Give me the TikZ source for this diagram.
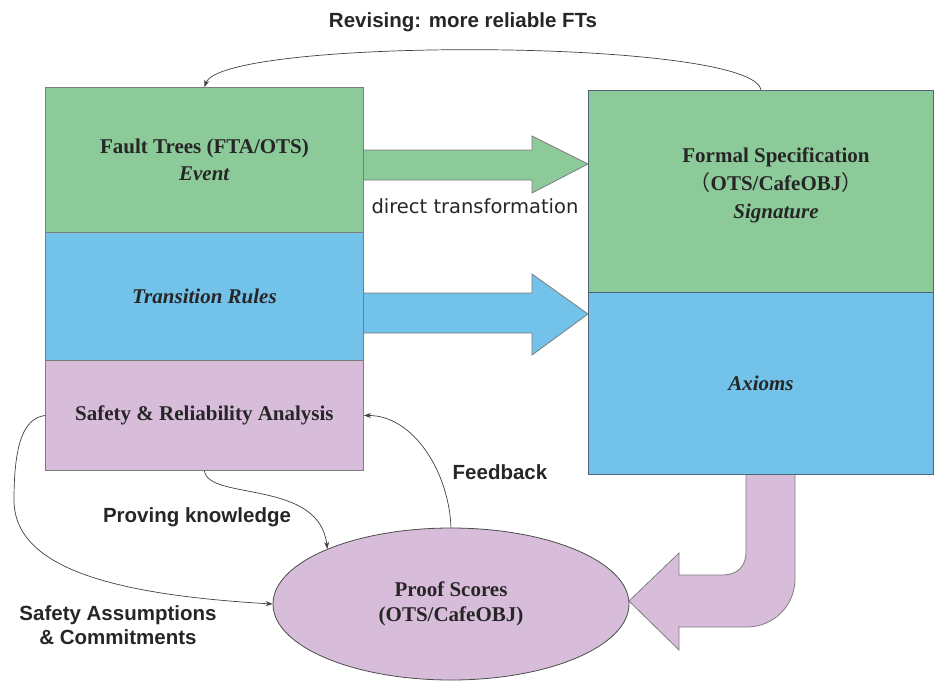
\documentclass[tikz,border=0pt]{standalone}
\usepackage{fontspec}
\setmainfont{Liberation Serif}
\newfontfamily\labfont{Liberation Sans}
\newfontfamily\handfont{DejaVu Sans}
\newfontfamily\cjk{Noto Sans CJK SC}
\usetikzlibrary{shapes.geometric,arrows.meta}
\definecolor{boxgreen}{RGB}{140,203,153}
\definecolor{boxblue}{RGB}{114,194,233}
\definecolor{boxpink}{RGB}{216,189,219}
\definecolor{edgegray}{RGB}{125,125,125}
\definecolor{edgeslate}{RGB}{80,100,120}
\definecolor{inkgray}{RGB}{38,38,38}
\begin{document}
\begin{tikzpicture}[x=1pt,y=-1pt,
  section/.style={draw=edgegray, line width=0.9pt, anchor=north west, inner sep=0pt,
    align=center, font=\fontsize{21}{27}\selectfont\bfseries, text=inkgray},
  lbl/.style={font=\labfont\bfseries\fontsize{20.5}{24}\selectfont, text=inkgray,
    align=center, inner sep=0pt},
  link/.style={draw=black!75, line width=0.7pt, -{Stealth[length=7pt,width=5pt]}},
  fat/.style={draw=edgegray, line width=0.8pt}]
\useasboundingbox (0,0) rectangle (941,681);

% block arrows between the two stacks and down to the proof scores
\draw[fat, fill=boxgreen] (363,150) -- (532,150) -- (532,136) -- (588,164)
  -- (532,193) -- (532,180) -- (363,180) -- cycle;
\draw[fat, fill=boxblue] (363,293) -- (532,293) -- (532,274) -- (588,314)
  -- (532,355) -- (532,333) -- (363,333) -- cycle;
\draw[fat, fill=boxpink] (746,474) -- (746,552) .. controls (746,566) and (738,575) .. (722,575)
  -- (679,575) -- (679,553) -- (629,601) -- (679,650) -- (679,627) -- (747,627)
  .. controls (773.5,627) and (795,605.5) .. (795,579) -- (795,474) -- cycle;

% left stack
\node[section, fill=boxgreen, minimum width=318pt, minimum height=145pt] (ftree) at (45,87)
  {Fault Trees (FTA/OTS)\\\textit{Event}};
\node[section, fill=boxblue, minimum width=318pt, minimum height=128pt] (trans) at (45,232)
  {\textit{Transition Rules}};
\node[section, fill=boxpink, minimum width=318pt, minimum height=110pt] (sra) at (45,360)
  {Safety \& Reliability Analysis};

% right stack
\node[section, draw=edgeslate, fill=boxgreen, minimum width=345pt, minimum height=202pt] (fspec) at (588,90) {};
\node[section, draw=edgeslate, fill=boxblue, minimum width=345pt, minimum height=182pt] (axioms) at (588,292)
  {\textit{Axioms}};
\node[align=center, inner sep=0pt, font=\fontsize{21}{28}\selectfont\bfseries, text=inkgray] (fstext) at (776,185)
  {Formal Specification\\{\cjk\mdseries （}OTS/CafeOBJ{\cjk\mdseries ）}\\\textit{Signature}};

% proof scores
\node[ellipse, draw=black!70, line width=0.8pt, fill=boxpink, minimum width=356pt, minimum height=152pt,
  inner sep=0pt, align=center, font=\fontsize{21}{25}\selectfont\bfseries, text=inkgray] (proof) at (451,604)
  {Proof Scores\\(OTS/CafeOBJ)};

% thin connectors
\draw[link] (fspec.north) .. controls +(-8,-52) and +(18,-50) .. (ftree.north);
\draw[link] (proof.north) .. controls +(-2,-55) and +(50,0) .. (sra.east);
\draw[link] (sra.south) .. controls +(4,30) and +(-8,-70) .. (proof.156);
\draw[link] (sra.west) .. controls +(-20,3) and +(0,-60) .. (14,500)
  .. controls +(0,70) and +(-153,-9) .. (proof.west);

% labels
\node[lbl] (revlbl) at (463,22) {Revising: more reliable FTs};
\node[inner sep=0pt, font=\handfont\fontsize{19.5}{22}\selectfont, text=inkgray] (dtlbl) at (475,206) {direct transformation};
\node[lbl] (fblbl) at (500,472) {Feedback};
\node[lbl] (pklbl) at (197,517) {Proving knowledge};
\node[lbl] (salbl) at (118,625) {Safety Assumptions\\\& Commitments};
\end{tikzpicture}
\end{document}
